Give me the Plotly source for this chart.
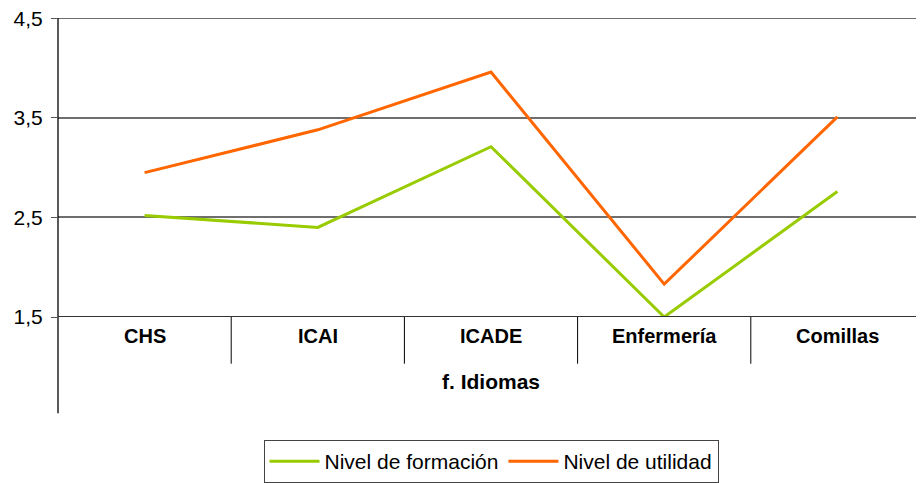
import plotly.graph_objects as go

categories = ["CHS", "ICAI", "ICADE", "Enfermería", "Comillas"]
formacion = [2.52, 2.40, 3.21, 1.50, 2.76]
utilidad = [2.95, 3.38, 3.96, 1.83, 3.51]
y_ticks = [1.5, 2.5, 3.5, 4.5]
y_tick_labels = ["1,5", "2,5", "3,5", "4,5"]
group_label = "f. Idiomas"

FONT = "Liberation Sans, Arial, sans-serif"
OFF = 8  # page body margin
W, H = 924 - OFF, 483 - OFF
L, R, T, B = 58 - OFF, 0, 18 - OFF, 164
ph = H - T - B
pw = W - L - R

fig = go.Figure()
fig.add_trace(go.Scatter(x=list(range(len(categories))), y=formacion, mode="lines",
                         name="Nivel de formación", line=dict(color="#99CC00", width=3),
                         cliponaxis=False))
fig.add_trace(go.Scatter(x=list(range(len(categories))), y=utilidad, mode="lines",
                         name="Nivel de utilidad", line=dict(color="#FF6600", width=3),
                         cliponaxis=False))

annotations = []
for i, c in enumerate(categories):
    annotations.append(dict(x=i, y=-32 / ph, xref="x", yref="paper", text=f"<b>{c}</b>",
                            showarrow=False, font=dict(family=FONT, size=20, color="black")))
annotations.append(dict(x=2, y=-79 / ph, xref="x", yref="paper", text=f"<b>{group_label}</b>",
                        showarrow=False, font=dict(family=FONT, size=21, color="black")))

shapes = []
for i in range(len(categories) - 1):
    shapes.append(dict(type="line", xref="x", yref="paper", x0=i + 0.5, x1=i + 0.5,
                       y0=0, y1=-47 / ph, line=dict(color="black", width=1)))
shapes.append(dict(type="line", xref="paper", yref="paper", x0=0, x1=0,
                   y0=-97 / ph, y1=1, line=dict(color="black", width=1.3)))
shapes.append(dict(type="line", xref="paper", yref="y", x0=0, x1=1,
                   y0=y_ticks[-1], y1=y_ticks[-1], line=dict(color="#6e6e6e", width=1.5),
                   layer="below"))

fig.update_layout(
    width=W, height=H, autosize=False,
    margin=dict(l=L, r=R, t=T, b=B, pad=0),
    paper_bgcolor="white", plot_bgcolor="white",
    font=dict(family=FONT, size=21, color="black"),
    xaxis=dict(range=[-0.5, len(categories) - 0.5], showticklabels=False, showgrid=False,
               zeroline=False, showline=False, ticks=""),
    yaxis=dict(range=[1.5, 4.503], tickvals=y_ticks, ticktext=y_tick_labels,
               showgrid=True, gridcolor="#6e6e6e", gridwidth=1.5, zeroline=False,
               showline=False, ticks="outside", ticklen=6, tickcolor="#555555",
               ticklabelstandoff=4, ticklabeloverflow="allow",
               tickfont=dict(family=FONT, size=21, color="black")),
    legend=dict(orientation="h", x=(491 - 58) / pw, xanchor="center",
                y=-124 / ph, yanchor="top", bordercolor="#444444", borderwidth=1,
                font=dict(family=FONT, size=21, color="black"), bgcolor="white",
                itemwidth=50, tracegroupgap=0),
    annotations=annotations, shapes=shapes,
)
fig.add_shape(type="line", xref="paper", yref="y", x0=0, x1=1, y0=1.5, y1=1.5,
              line=dict(color="#333333", width=2))

fig.write_html("out.html")
